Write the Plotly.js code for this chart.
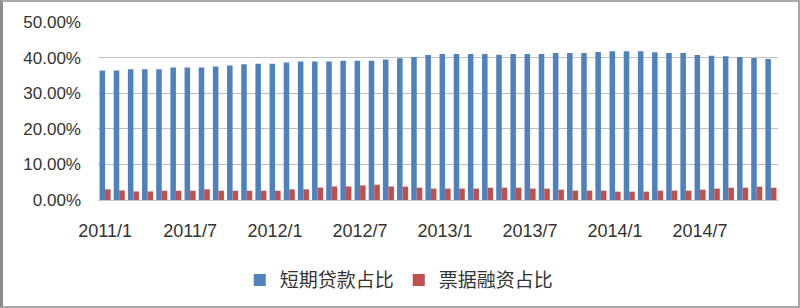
<!DOCTYPE html>
<html>
<head>
<meta charset="utf-8">
<script src="https://cdn.plot.ly/plotly-3.0.1.min.js"></script>
<style>
html,body{margin:0;padding:0;background:#fff;}
#wrap{position:relative;width:800px;height:308px;}
#chart{width:800px;height:308px;}
#frame{position:absolute;left:0;top:0;width:800px;height:308px;box-sizing:border-box;border:2px solid #a8a8a8;border-left:3px solid #8c8c8c;pointer-events:none;}
</style>
</head>
<body>
<div id="wrap"><div id="chart"></div><div id="frame"></div></div>
<script>
// Months 2011/1 .. 2014/12
const months = [];
for (let y = 2011; y <= 2014; y++) for (let m = 1; m <= 12; m++) months.push(y + "/" + m);

const seriesNames = ["短期贷款占比", "票据融资占比"];

// 短期贷款占比 (%)
const shortLoan = [
  36.4, 36.4, 36.7, 36.7, 36.7, 37.2, 37.2, 37.2, 37.5, 37.8, 38.1, 38.3,
  38.3, 38.6, 38.9, 38.9, 38.9, 39.1, 39.1, 39.1, 39.5, 39.8, 40.2, 40.7,
  41.0, 41.0, 41.0, 41.0, 40.8, 41.0, 41.0, 41.0, 41.3, 41.3, 41.3, 41.6,
  41.8, 41.8, 41.8, 41.5, 41.3, 41.3, 40.7, 40.5, 40.4, 40.2, 39.9, 39.6
];
// 票据融资占比 (%)
const billFinance = [
  3.0, 2.7, 2.4, 2.4, 2.6, 2.6, 2.6, 3.0, 2.6, 2.6, 2.6, 2.6,
  2.6, 3.0, 3.0, 3.5, 3.8, 3.8, 4.1, 4.3, 3.8, 3.75, 3.46, 3.2,
  3.2, 3.2, 3.2, 3.46, 3.46, 3.46, 3.2, 3.2, 2.9, 2.62, 2.62, 2.62,
  2.34, 2.34, 2.34, 2.62, 2.62, 2.62, 2.9, 3.2, 3.46, 3.46, 3.75, 3.46
];

const tickLabels = ["2011/1", "2011/7", "2012/1", "2012/7", "2013/1", "2013/7", "2014/1", "2014/7"];
const yTicks = [0, 0.1, 0.2, 0.3, 0.4, 0.5];

const traces = [
  {type: "bar", name: seriesNames[0], x: months, y: shortLoan.map(v => v / 100),
   marker: {color: "#4f81bd"}, hoverinfo: "x+y"},
  {type: "bar", name: seriesNames[1], x: months, y: billFinance.map(v => v / 100),
   marker: {color: "#c0504d"}, hoverinfo: "x+y"}
];

const layout = {
  width: 800, height: 308,
  margin: {l: 98, r: 22, t: 22, b: 108, pad: 0, autoexpand: false},
  paper_bgcolor: "#ffffff", plot_bgcolor: "#ffffff",
  barmode: "group", bargap: 0.22, bargroupgap: 0,
  font: {family: "Liberation Sans, Arial, sans-serif", color: "#333333"},
  xaxis: {
    type: "category",
    categoryorder: "array", categoryarray: months,
    tickmode: "array", tickvals: tickLabels, ticktext: tickLabels,
    ticks: "", showgrid: false, zeroline: false,
    showline: true, linecolor: "#c4c8d0", linewidth: 1,
    tickfont: {size: 18, family: "Liberation Sans, Arial, sans-serif", color: "#333333"},
    ticklabelstandoff: 14,
    tickangle: 0, automargin: false
  },
  yaxis: {
    range: [0, 0.5], tickmode: "array", tickvals: yTicks,
    tickformat: ".2%",
    showgrid: true, gridcolor: "#bfbfbf", gridwidth: 1,
    zeroline: false, showline: false, ticks: "",
    tickfont: {size: 17, family: "Liberation Sans, Arial, sans-serif", color: "#333333"},
    ticklabelstandoff: 16, automargin: false
  },
  showlegend: true,
  legend: {
    orientation: "h", x: 0.443, xanchor: "center", y: -0.45, yanchor: "middle",
    font: {size: 19, family: "Noto Sans CJK SC, sans-serif", color: "#333333"},
    itemwidth: 30, traceorder: "normal", bgcolor: "rgba(0,0,0,0)"
  }
};

Plotly.newPlot("chart", traces, layout, {staticPlot: true, displayModeBar: false});
</script>
</body>
</html>
